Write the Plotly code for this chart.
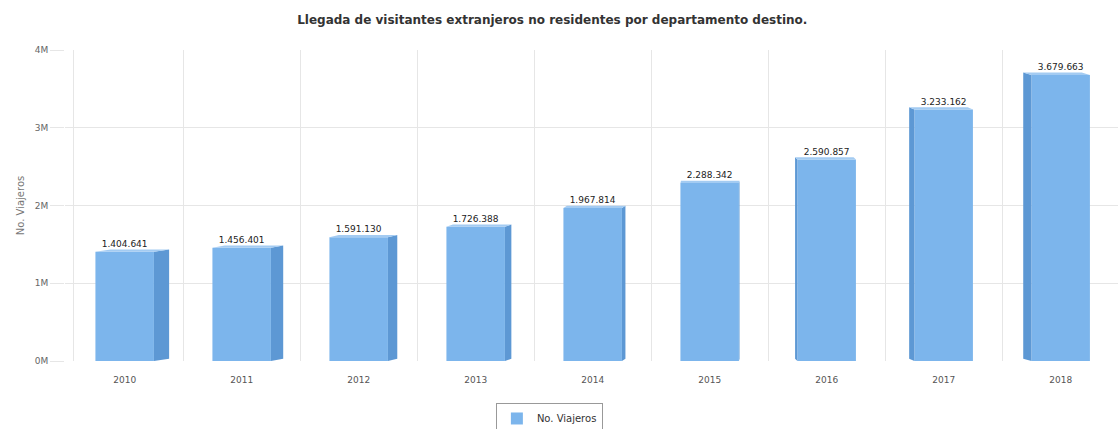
import plotly.graph_objects as go

# Arrivals of non-resident foreign visitors per year
years = ["2010", "2011", "2012", "2013", "2014", "2015", "2016", "2017", "2018"]
viajeros = [1404641, 1456401, 1591130, 1726388, 1967814, 2288342, 2590857, 3233162, 3679663]
y_ticks = [0, 1000000, 2000000, 3000000, 4000000]
y_tick_labels = ["0M", "1M", "2M", "3M", "4M"]

FRONT = "#7cb5ec"
SIDE = "#5d98d4"
TOP = "#a3cbf2"
BAR_W = 0.5
DEPTH_Y = 30000  # vertical rise of the bar depth, in axis units

xs = list(range(len(years)))
labels = [f"{v:,}".replace(",", ".") for v in viajeros]

fig = go.Figure()

# pseudo-3D side and top faces, derived from each bar's value
for i, v in zip(xs, viajeros):
    dx = 0.13 - i * 0.025
    x0, x1 = i - BAR_W / 2, i + BAR_W / 2
    edge = x1 if dx > 0 else x0
    fig.add_trace(go.Scatter(
        x=[edge, edge + dx, edge + dx, edge, edge],
        y=[0, DEPTH_Y, v + DEPTH_Y, v, 0],
        fill="toself", fillcolor=SIDE, mode="lines",
        line=dict(width=0, color=SIDE), hoverinfo="skip", showlegend=False,
    ))
    fig.add_trace(go.Scatter(
        x=[x0, x1, x1 + dx, x0 + dx, x0],
        y=[v, v, v + DEPTH_Y, v + DEPTH_Y, v],
        fill="toself", fillcolor=TOP, mode="lines",
        line=dict(width=0, color=TOP), hoverinfo="skip", showlegend=False,
    ))

fig.add_trace(go.Bar(
    x=xs, y=viajeros, width=BAR_W, name="No. Viajeros",
    marker=dict(color=FRONT, line=dict(width=0)),
    text=labels, textposition="outside", cliponaxis=False,
    textfont=dict(size=9, color="#222", family="DejaVu Sans"),
))

fig.update_layout(
    width=1118, height=429,
    margin=dict(l=65, r=0, t=50, b=68, autoexpand=False),
    paper_bgcolor="white", plot_bgcolor="white",
    font=dict(family="DejaVu Sans", color="#666"),
    title=dict(
        text="Llegada de visitantes extranjeros no residentes por departamento destino.",
        x=0.494, xanchor="center", y=0.955, yanchor="middle",
        font=dict(size=12, color="#333", weight=600),
    ),
    showlegend=True,
    legend=dict(
        orientation="h", x=0.46, xanchor="center", y=-0.135, yanchor="top",
        bordercolor="#999", borderwidth=1, bgcolor="white",
        font=dict(size=10, color="#333"),
        itemwidth=30, tracegroupgap=0,
    ),
    xaxis=dict(
        range=[-0.51, 8.49], tickmode="array", tickvals=xs, ticktext=years,
        showgrid=False, zeroline=False, showline=False,
        ticks="outside", ticklen=10, tickcolor="rgba(0,0,0,0)",
        tickfont=dict(size=9, color="#555"),
        minor=dict(tickmode="array", tickvals=[i + 0.5 for i in xs[:-1]] + [-0.44],
                   showgrid=True, gridcolor="#e6e6e6", gridwidth=1),
    ),
    yaxis=dict(
        range=[0, 4000000], tickmode="array", tickvals=y_ticks, ticktext=y_tick_labels,
        gridcolor="#e6e6e6", zeroline=False, showline=False,
        ticks="outside", ticklen=14, tickcolor="#e6e6e6",
        tickfont=dict(size=9, color="#666"),
        title=dict(text="No. Viajeros", font=dict(size=10, color="#777"), standoff=8),
    ),
)

fig.write_html("out.html")
